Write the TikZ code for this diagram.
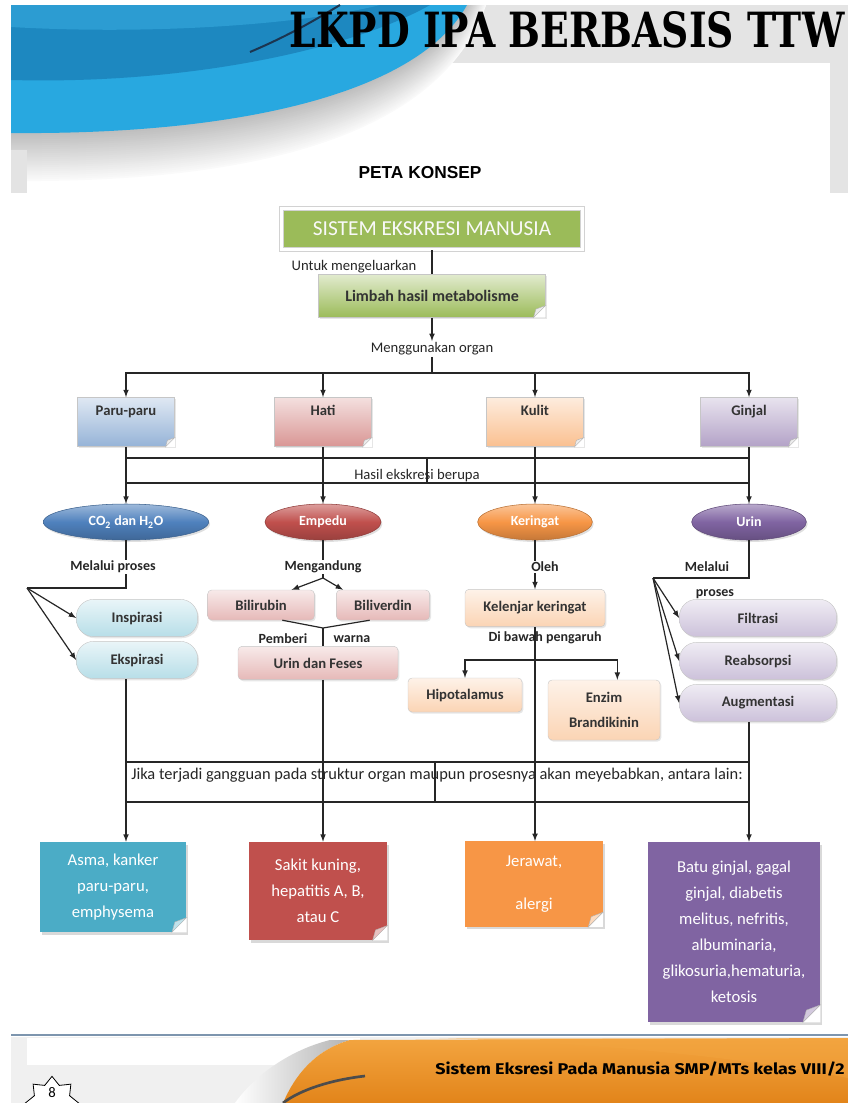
\documentclass[tikz,border=0pt]{standalone}
\usepackage{fontspec}
\setmainfont{Carlito}
\newfontfamily\titlefont{DejaVu Serif}
\newfontfamily\arialfont{Liberation Sans}
\newfontfamily\footfont{Fira Sans}
\usetikzlibrary{arrows.meta, shapes.geometric, shadows, calc}
\definecolor{framegray}{HTML}{E4E4E4}
\definecolor{swooshbright}{HTML}{28A8E0}
\definecolor{swooshdark}{HTML}{1D88C0}
\definecolor{swooshmid}{HTML}{2C9CD2}
\definecolor{swooshnavy}{HTML}{1B3550}
\definecolor{sysgreen}{HTML}{9BBB59}
\definecolor{parublue}{HTML}{95B3D7}
\definecolor{hatipink}{HTML}{D99694}
\definecolor{kulitorange}{HTML}{FAC090}
\definecolor{ginjalpurple}{HTML}{B3A2C7}
\definecolor{ovalblue}{HTML}{4F81BD}
\definecolor{ovalred}{HTML}{C0504D}
\definecolor{ovalorange}{HTML}{F79646}
\definecolor{ovalpurple}{HTML}{8064A2}
\definecolor{pillblue}{HTML}{B7DEE8}
\definecolor{pillpurple}{HTML}{CCC1DA}
\definecolor{tabpink}{HTML}{E6B9B8}
\definecolor{taborange}{HTML}{FBD4B4}
\definecolor{noteteal}{HTML}{4BACC6}
\definecolor{footorange}{HTML}{E2841A}
\definecolor{footlight}{HTML}{F3A540}
\definecolor{footline}{HTML}{7D95AE}

\tikzset{
  wire/.style={line width=0.9pt, black!85},
  lbl/.style={font=\fontsize{11}{13}\selectfont, inner sep=1pt, text=black!85},
  lblb/.style={lbl, font=\bfseries\fontsize{10.5}{13}\selectfont},
  lblw/.style={lblb, fill=white},
  card/.style={draw=gray!45, line width=0.3pt, top color=#1!30!white, bottom color=#1,
    text=black!80, font=\bfseries\fontsize{11}{13}\selectfont,
    drop shadow={opacity=0.2, shadow xshift=1pt, shadow yshift=-1.2pt}},
  organ/.style={card=#1, minimum width=73pt, text height=11pt, text depth=21.5pt, inner ysep=2.25pt},
  oval/.style={ellipse, draw=#1!75!black, line width=0.4pt, top color=#1!55!white,
    bottom color=#1!80!black, middle color=#1, minimum height=27pt, inner sep=1pt,
    text=white, font=\bfseries\fontsize{10.5}{12}\selectfont,
    drop shadow={opacity=0.25, shadow xshift=1pt, shadow yshift=-1.5pt}},
  pill/.style={card=#1, rounded corners=13pt, minimum height=28pt},
  tab/.style={card=#1, rounded corners=3pt},
  note/.style={fill=#1, text=white, align=center, inner sep=0pt,
    font=\fontsize{12.5}{19.5}\selectfont,
    drop shadow={opacity=0.3, shadow xshift=1.5pt, shadow yshift=-2pt}}
}

% folded corner at the bottom right of a node
\newcommand{\dogear}[3]{%
  \fill[white] ([xshift=-#2]#1.south east) -- (#1.south east) -- ([yshift=#2]#1.south east) -- cycle;
  \filldraw[fill=#3, draw=gray!60, line width=0.3pt] ([xshift=-#2]#1.south east) -- ([yshift=#2]#1.south east)
    -- ([xshift=-0.8*#2, yshift=0.7*#2]#1.south east) -- cycle;}

\begin{document}
\begin{tikzpicture}[x=0.75pt, y=-0.75pt]
  \useasboundingbox (0,0) rectangle (848,1103);

  % header
  \fill[framegray] (11,5) rectangle (848,63);
  \fill[framegray] (830,63) rectangle (848,193);
  \begin{scope}
    \clip (11,0) rectangle (848,193);
    \foreach \d in {48,46,...,2} {
      \pgfmathtruncatemacro\c{52-\d}
      \fill[gray!\c] (11,5) -- ([xshift=0.3*\d]467,5) .. controls ([xshift=0.3*\d]420,90+\d) and (250,135+\d) .. (11,133+\d) -- cycle;
    }
  \end{scope}
  \fill[gray!22] (11,150) rectangle (27,193);
  \fill[swooshbright] (11,5) -- (467,5) .. controls (420,90) and (250,135) .. (11,133) -- cycle;
  \fill[swooshdark] (11,5) -- (430,5) .. controls (360,45) and (200,85) .. (11,80) -- cycle;
  \fill[swooshmid] (11,5) -- (380,5) .. controls (300,25) and (150,35) .. (11,27) -- cycle;
  \draw[swooshnavy, line width=1.5pt] (250,52) .. controls (290,35) and (315,20) .. (340,5);
  \node[inner sep=0pt] (title) at (567,30) {\resizebox{416pt}{27pt}{\titlefont\bfseries LKPD IPA BERBASIS TTW}};
  \node[inner sep=0pt, font=\arialfont\bfseries\fontsize{13}{15}\selectfont] (peta) at (420,173) {PETA KONSEP};

  % footer
  \fill[gray!12] (11,1037) rectangle (848,1103);
  \fill[white] (27,1038) rectangle (360,1065);
  \shade[left color=white, right color=gray!60] (235,1103) .. controls (255,1075) and (290,1050) .. (330,1040) -- (350,1040) .. controls (315,1050) and (295,1075) .. (283,1103) -- cycle;
  \shade[top color=footlight, bottom color=footorange] (283,1103) .. controls (295,1075) and (315,1050) .. (350,1040) -- (848,1038) -- (848,1103) -- cycle;
  \fill[footlight, opacity=0.45] (430,1038) .. controls (600,1042) and (760,1060) .. (848,1078) -- (848,1038) -- cycle;
  \draw[black!70, line width=2pt] (283,1103) .. controls (300,1090) and (330,1080) .. (365,1076);
  \draw[footline, line width=1.2pt] (11,1035) -- (848,1035);
  \node[inner sep=0pt] (foottext) at (640,1069) {\resizebox{307pt}{9.5pt}{\footfont\bfseries Sistem Eksresi Pada Manusia SMP/MTs kelas VIII/2}};
  \node[star, star points=8, star point ratio=1.4, draw=black, fill=white, line width=0.6pt, minimum size=40pt] (seal) at (52,1103) {};
  \node[font=\fontsize{11}{13}\selectfont] (pagenum) at (52,1093) {8};

  % nodes
  \node[fill=sysgreen, draw=gray!35, double=white, double distance=2.5pt, line width=0.6pt,
    minimum width=226pt, minimum height=31pt, text=white!95!gray, font=\fontsize{16}{18}\selectfont] (sistem) at (432,229) {SISTEM EKSKRESI MANUSIA};
  \node[card=sysgreen, minimum width=170pt, minimum height=32pt, font=\bfseries\fontsize{12}{14}\selectfont] (limbah) at (432,296) {Limbah hasil metabolisme};
  \node[lbl] (untuk) at (354,267) {Untuk mengeluarkan};
  \node[lbl] (menggunakan) at (432,349) {Menggunakan organ};
  \coordinate (bus1) at (432,373);

  \node[organ=parublue] (paru) at (126,422) {Paru-paru};
  \node[organ=hatipink] (hati) at (323,422) {Hati};
  \node[organ=kulitorange] (kulit) at (535,422) {Kulit};
  \node[organ=ginjalpurple] (ginjal) at (749,422) {Ginjal};

  \node[oval=ovalblue, minimum width=124pt] (co2) at (126,522) {CO\textsubscript{2} dan H\textsubscript{2}O};
  \node[oval=ovalred, minimum width=87pt] (empedu) at (323,522) {Empedu};
  \node[oval=ovalorange, minimum width=86pt] (keringat) at (535,522) {Keringat};
  \node[oval=ovalpurple, minimum width=86pt] (urin) at (749,522) {Urin};

  \node[pill=pillblue, minimum width=91pt] (inspirasi) at (137,618) {Inspirasi};
  \node[pill=pillblue, minimum width=91pt] (ekspirasi) at (137,660) {Ekspirasi};
  \coordinate (cfork) at (27,588);

  \node[tab=tabpink, minimum width=80pt, minimum height=22.5pt] (bilirubin) at (261,605) {Bilirubin};
  \node[tab=tabpink, minimum width=70pt, minimum height=22.5pt] (biliverdin) at (383,605) {Biliverdin};
  \node[tab=tabpink, minimum width=120pt, minimum height=25pt] (feses) at (318,663) {Urin dan Feses};
  \coordinate (efork) at (323,578);
  \coordinate (ejoin) at (323,628);

  \node[tab=taborange, minimum width=105pt, minimum height=28pt] (kelenjar) at (535,608) {Kelenjar keringat};
  \node[tab=taborange, minimum width=85.5pt, minimum height=25.5pt] (hipotalamus) at (465,695) {Hipotalamus};
  \node[tab=taborange, minimum width=84pt, minimum height=45pt, align=center,
    font=\bfseries\fontsize{11}{19}\selectfont] (enzim) at (604,710) {Enzim\\Brandikinin};
  \coordinate (kfork) at (535,660);

  \node[pill=pillpurple, minimum width=118pt] (filtrasi) at (758,618) {Filtrasi};
  \node[pill=pillpurple, minimum width=118pt] (reabsorpsi) at (758,661) {Reabsorpsi};
  \node[pill=pillpurple, minimum width=118pt] (augmentasi) at (758,703) {Augmentasi};
  \coordinate (ufork) at (653,578);

  \node[note=noteteal, minimum width=110pt, minimum height=67.5pt] (asma) at (113,887) {Asma, kanker\\paru-paru,\\emphysema};
  \node[note=ovalred, minimum width=103.5pt, minimum height=73.5pt] (sakit) at (318,891) {Sakit kuning,\\hepatitis A, B,\\atau C};
  \node[note=ovalorange, minimum width=103pt, minimum height=64pt] (jerawat) at (534,884) {Jerawat,\\[12.5pt]alergi};
  \node[note=ovalpurple, minimum width=129pt, minimum height=135pt] (batu) at (734,932) {Batu ginjal, gagal\\ginjal, diabetis\\melitus, nefritis,\\albuminaria,\\glikosuria,hematuria,\\ketosis};

  \dogear{limbah}{9pt}{white!85!gray}
  \foreach \o in {paru,hati,kulit,ginjal} \dogear{\o}{7pt}{white!85!gray};
  \dogear{asma}{11pt}{noteteal!35!white}
  \dogear{sakit}{11pt}{ovalred!35!white}
  \dogear{jerawat}{11pt}{ovalorange!35!white}
  \dogear{batu}{13pt}{ovalpurple!35!white}

  % connectors
  \draw[wire] (sistem) -- (limbah);
  \draw[wire,-latex] (limbah) -- (menggunakan);
  \draw[wire] (menggunakan) -- (bus1);
  \foreach \o in {paru,hati,kulit,ginjal} \draw[wire,-latex] (bus1) -| (\o);
  \foreach \a/\b in {paru/co2, hati/empedu, kulit/keringat, ginjal/urin} \draw[wire,-latex] (\a) -- (\b);
  \draw[wire] (126,458) -- (749,458);
  \draw[wire] (126,483) -- (749,483);
  \draw[wire] (427,458) -- (427,483);
  \node[lbl] (hasil) at (417,476) {Hasil ekskresi berupa};

  \draw[wire] (co2) |- (cfork);
  \draw[wire,-latex] (cfork) -- (inspirasi.west);
  \draw[wire,-latex] (cfork) -- (ekspirasi.west);
  \node[lblw] (melalui1) at (113,567) {Melalui proses};

  \draw[wire] (empedu) -- (efork);
  \draw[wire,-latex] (efork) -- ([xshift=23pt]bilirubin.north);
  \draw[wire,-latex] (efork) -- ([xshift=-30pt]biliverdin.north);
  \node[lblw] (mengandung) at (323,567) {Mengandung};
  \draw[wire] ([xshift=16pt]bilirubin.south) -- (ejoin) -- ([xshift=-10pt]biliverdin.south);
  \draw[wire] (ejoin) -- (feses.north -| ejoin);
  \node[lblb] (pemberi) at (283,639) {Pemberi};
  \node[lblb] (warna) at (352,639) {warna};

  \draw[wire,-latex] (keringat) -- (kelenjar);
  \node[lblw] (oleh) at (545,567) {Oleh};
  \node[lblb] (bawah) at (545,638) {Di bawah pengaruh};
  \draw[wire,-latex] (kfork) -| (hipotalamus);
  \draw[wire,-latex] (kfork) -| ([xshift=10pt]enzim.north);

  \draw[wire] (urin) |- (ufork);
  \foreach \p in {filtrasi,reabsorpsi,augmentasi} \draw[wire,-latex] (ufork) -- (\p.west);
  \node[lblb] (melalui2) at (707,567) {Melalui};
  \node[lblb] (proses2) at (715,594) {proses};

  % consequences
  \draw[wire] (126,762) -- (749,762);
  \draw[wire] (126,802) -- (749,802);
  \draw[wire] (435,762) -- (435,802);
  \node[lbl, font=\fontsize{12.3}{14}\selectfont] (jika) at (437,775) {Jika terjadi gangguan pada struktur organ maupun prosesnya akan meyebabkan, antara lain:};
  \draw[wire,-latex] (ekspirasi.south -| co2) -- (asma.north -| co2);
  \draw[wire,-latex] (feses.south -| empedu) -- (sakit.north -| empedu);
  \draw[wire,-latex] (kelenjar) -- (jerawat.north -| kelenjar);
  \draw[wire,-latex] (augmentasi.south -| urin) -- (batu.north -| urin);
\end{tikzpicture}
\end{document}
